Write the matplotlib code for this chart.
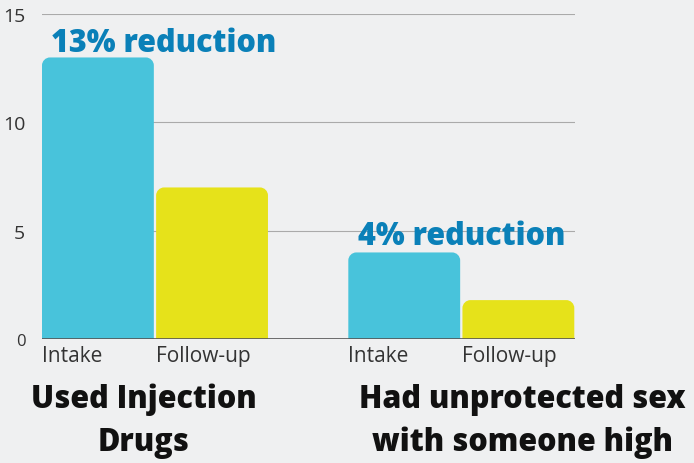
import matplotlib
matplotlib.use("Agg")
import matplotlib.pyplot as plt
from matplotlib.path import Path
from matplotlib.patches import PathPatch

categories = ["Intake", "Follow-up", "Intake", "Follow-up"]
values = [13, 7, 4, 1.8]
groups = ["Used Injection\nDrugs", "Had unprotected sex\nwith someone high"]
annotations = ["13% reduction", "4% reduction"]
yticks = [0, 5, 10, 15]

positions = [0, 1, 2.684, 3.684]
colors = ["#48c3db", "#e6e21a", "#48c3db", "#e6e21a"]

plt.rcParams['font.family'] = ['Open Sans', 'DejaVu Sans']

fig = plt.figure(figsize=(6.94, 4.64), dpi=100)
fig.patch.set_facecolor("#eff0f1")
ax = fig.add_axes([0.0605, 0.267, 0.768, 0.7004])
ax.set_facecolor("none")
ax.set_xlim(-0.49, 4.18)
ax.set_ylim(0, 15)

bars = ax.bar(positions, values, width=0.98, color=colors)
fig.canvas.draw()
px_x = ax.transData.transform((1, 0))[0] - ax.transData.transform((0, 0))[0]
px_y = ax.transData.transform((0, 1))[1] - ax.transData.transform((0, 0))[1]
r = 8 * fig.dpi / 100
rx, ry = r / px_x, r / px_y
k = 0.5523
for b in bars:
    x0, y0, w, h = b.get_x(), b.get_y(), b.get_width(), b.get_height()
    x1, y1 = x0 + w, y0 + h
    verts = [(x0, y0), (x0, y1 - ry),
             (x0, y1 - ry + k * ry), (x0 + rx - k * rx, y1), (x0 + rx, y1),
             (x1 - rx, y1),
             (x1 - rx + k * rx, y1), (x1, y1 - ry + k * ry), (x1, y1 - ry),
             (x1, y0), (x0, y0)]
    codes = [Path.MOVETO, Path.LINETO,
             Path.CURVE4, Path.CURVE4, Path.CURVE4,
             Path.LINETO,
             Path.CURVE4, Path.CURVE4, Path.CURVE4,
             Path.LINETO, Path.CLOSEPOLY]
    ax.add_patch(PathPatch(Path(verts, codes), facecolor=b.get_facecolor(),
                           edgecolor="none", zorder=2))
    b.remove()

for yv in yticks[1:]:
    ax.axhline(yv, color="#aaaaaa", lw=0.8, zorder=1)
ax.axhline(0, color="#555555", lw=1.2, zorder=3)

for s in ax.spines.values():
    s.set_visible(False)
ax.set_yticks(yticks)
ax.set_yticklabels([str(t) for t in yticks], fontsize=14, color="#333333")
ax.get_yticklabels()[0].set_fontsize(12)
ax.tick_params(axis='y', length=0, pad=12)
ax.set_xticks([p - 0.49 for p in positions])
ax.set_xticklabels(categories, fontsize=15, color="#333333", ha="left")
ax.tick_params(axis='x', length=0, pad=4)

ax.text(0.58, 13.3, annotations[0], ha="center", va="baseline", fontsize=22,
        fontweight=800, color="#0a80b8")
ax.text(3.19, 4.38, annotations[1], ha="center", va="baseline", fontsize=22,
        fontweight=800, color="#0a80b8")

for cx, label in zip([144, 522], groups):
    for line, cy in zip(label.split("\n"), [400, 443]):
        fig.text(cx / 694, 1 - cy / 464, line, ha="center", va="center",
                 fontsize=22, fontweight=800, color="#111111")

fig.savefig("out.png", dpi=100, facecolor=fig.get_facecolor())
